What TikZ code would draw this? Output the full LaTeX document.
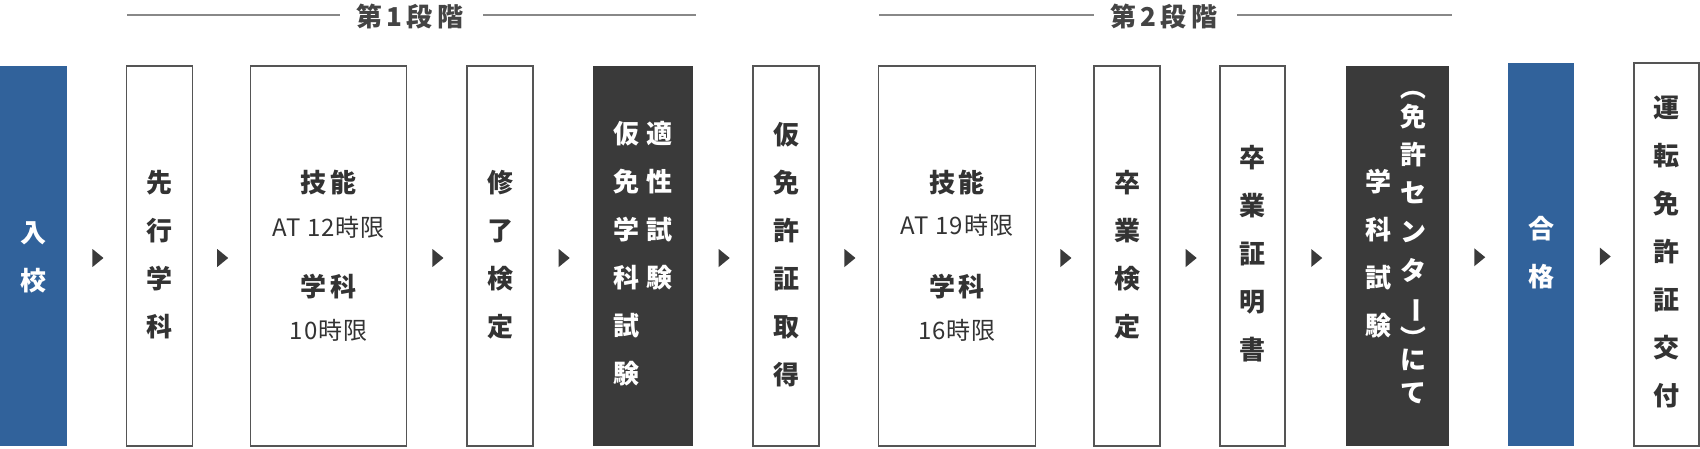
\documentclass[tikz,border=0pt]{standalone}
\usepackage{fontspec}
\setmainfont{Noto Sans CJK JP}
\usetikzlibrary{shapes.geometric}
\definecolor{blueb}{RGB}{49,98,155}
\definecolor{darkb}{RGB}{58,58,58}
\definecolor{txt}{RGB}{51,51,51}
\definecolor{bord}{RGB}{85,85,85}
\definecolor{hl}{RGB}{136,136,136}
\definecolor{headc}{RGB}{68,68,68}
\begin{document}
\begin{tikzpicture}[x=1pt,y=-1pt,
  stage/.style={rectangle, inner sep=0pt, outer sep=0pt, minimum height=380pt},
  stagetall/.style={minimum height=383pt},
  wbox/.style={stage, draw=bord, line width=1.5pt, fill=white},
  bbox/.style={stage, fill=blueb},
  dbox/.style={stage, fill=darkb},
  vt/.style={align=center, inner sep=0pt, font=\bfseries\fontsize{26}{48}\selectfont, text=txt},
  vtw/.style={vt, text=white},
  ht/.style={inner sep=0pt, font=\bfseries\fontsize{26}{30}\selectfont\addfontfeature{LetterSpace=12}, text=txt},
  st/.style={inner sep=0pt, font=\fontsize{24}{28}\selectfont\addfontfeature{LetterSpace=4}, text=txt},
  tri/.style={isosceles triangle, isosceles triangle stretches, fill=darkb, inner sep=0pt, minimum width=18pt, minimum height=11pt},
  hline/.style={draw=hl, line width=2pt},
  head/.style={inner sep=0pt, font=\bfseries\fontsize{26}{30}\selectfont\addfontfeature{LetterSpace=16}, text=headc}
]
\useasboundingbox (0,0) rectangle (1700,448);

% header
\node[head] (h1) at (410,17) {第1段階};
\node[head] (h2) at (1164,17) {第2段階};
\draw[hline] (127,15) -- (340,15);
\draw[hline] (483,15) -- (696,15);
\draw[hline] (879,15) -- (1094,15);
\draw[hline] (1237,15) -- (1452,15);

% boxes
\node[bbox, minimum width=68pt] (b1) at (33,256) {};
\node[wbox, minimum width=66pt] (b2) at (159.5,256) {};
\node[wbox, minimum width=156pt] (b3) at (328.5,256) {};
\node[wbox, minimum width=66pt] (b4) at (500,256) {};
\node[dbox, minimum width=100pt] (b5) at (643,256) {};
\node[wbox, minimum width=66pt] (b6) at (786,256) {};
\node[wbox, minimum width=157pt] (b7) at (957,256) {};
\node[wbox, minimum width=66pt] (b8) at (1127,256) {};
\node[wbox, minimum width=65pt] (b9) at (1252.5,256) {};
\node[dbox, minimum width=103pt] (b10) at (1397.5,256) {};
\node[bbox, stagetall, minimum width=66pt] (b11) at (1541,254.5) {};
\node[wbox, stagetall, minimum width=65pt] (b12) at (1666.5,254.5) {};

% arrows
\path ([yshift=-2pt]b1.east) -- node[tri] (a1) {} ([yshift=-2pt]b2.west);
\path ([yshift=-2pt]b2.east) -- node[tri] (a2) {} ([yshift=-2pt]b3.west);
\path ([yshift=-2pt]b3.east) -- node[tri] (a3) {} ([yshift=-2pt]b4.west);
\path ([yshift=-2pt]b4.east) -- node[tri] (a4) {} ([yshift=-2pt]b5.west);
\path ([yshift=-2pt]b5.east) -- node[tri] (a5) {} ([yshift=-2pt]b6.west);
\path ([yshift=-2pt]b6.east) -- node[tri] (a6) {} ([yshift=-2pt]b7.west);
\path ([yshift=-2pt]b7.east) -- node[tri] (a7) {} ([yshift=-2pt]b8.west);
\path ([yshift=-2pt]b8.east) -- node[tri] (a8) {} ([yshift=-2pt]b9.west);
\path ([yshift=-2pt]b9.east) -- node[tri] (a9) {} ([yshift=-2pt]b10.west);
\path ([yshift=-2pt]b10.east) -- node[tri] (a10) {} ([yshift=-2pt]b11.west);
\path ([yshift=-2pt]b11.east) -- node[tri] (a11) {} ([yshift=-2pt]b12.west);

% texts
\node[vtw] (t1) at (33.5,257) {入\\校};
\node[vt] (t2) at (159.5,255) {先\\行\\学\\科};
\node[ht] (t3a) at (328.5,183) {技能};
\node[st] (t3b) at (328.5,227) {AT 12時限};
\node[ht] (t3c) at (328.5,287) {学科};
\node[st] (t3d) at (328.5,330) {10時限};
\node[vt] (t4) at (500,255) {修\\了\\検\\定};
\node[vtw, anchor=north] (t5a) at (626,121) {仮\\免\\学\\科\\試\\験};
\node[vtw, anchor=north] (t5b) at (659,121) {適\\性\\試\\験};
\node[vt] (t6) at (786,255) {仮\\免\\許\\証\\取\\得};
\node[ht] (t7a) at (957,183) {技能};
\node[st] (t7b) at (957,225) {AT 19時限};
\node[ht] (t7c) at (957,287) {学科};
\node[st] (t7d) at (957,330) {16時限};
\node[vt] (t8) at (1127,255) {卒\\業\\検\\定};
\node[vt] (t9) at (1252.5,254) {卒\\業\\証\\明\\書};
\node[vtw] (t10a) at (1378,254) {学\\科\\試\\験};
\node[vtw] (r1) at (1413,87) {\rotatebox[origin=c]{-90}{（}};
\node[vtw] (r2) at (1413,117) {免};
\node[vtw] (r3) at (1413,155) {許};
\node[vtw] (r4) at (1413,193) {セ};
\node[vtw] (r5) at (1413,232) {ン};
\node[vtw] (r6) at (1413,270) {タ};
\node[vtw] (r7) at (1413,310) {\rotatebox[origin=c]{-90}{ー}};
\node[vtw] (r8) at (1413,338) {\rotatebox[origin=c]{-90}{）}};
\node[vtw] (r9) at (1413,360) {に};
\node[vtw] (r10) at (1413,393) {て};
\node[vtw] (t11) at (1541,252.5) {合\\格};
\node[vt] (t12) at (1666.5,252) {運\\転\\免\\許\\証\\交\\付};
\end{tikzpicture}
\end{document}
